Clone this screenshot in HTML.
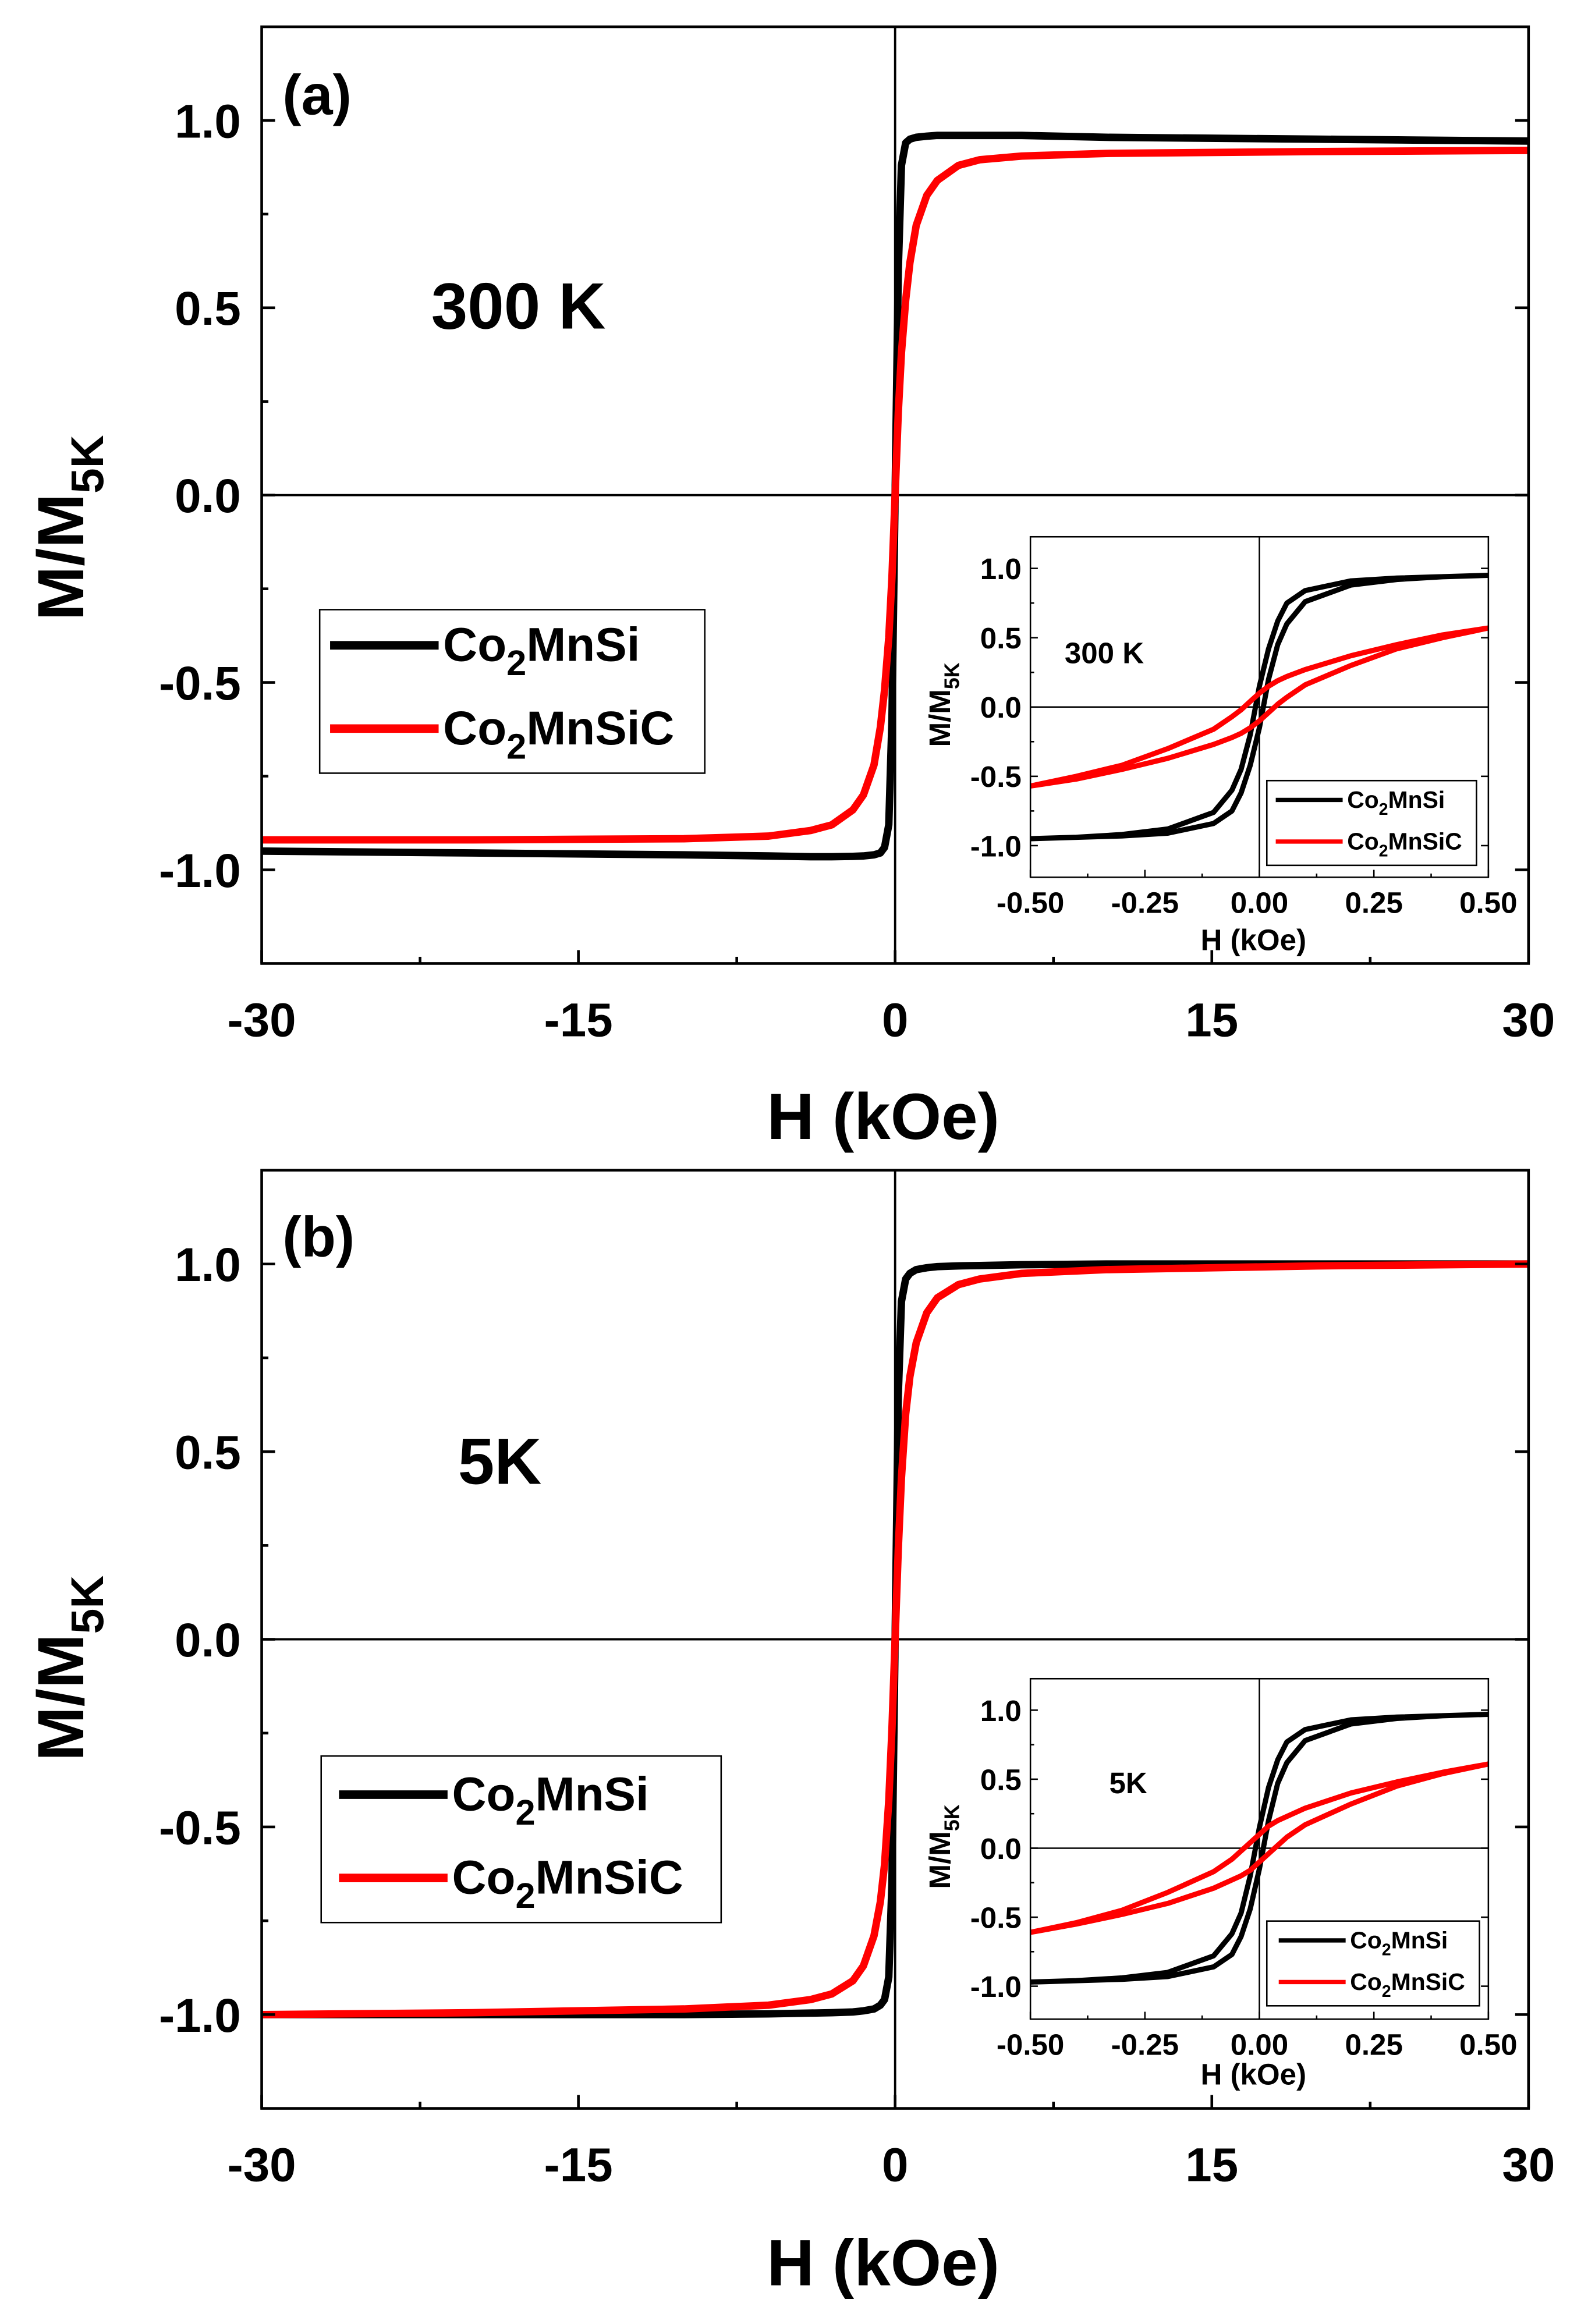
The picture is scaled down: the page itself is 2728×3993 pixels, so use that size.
<!DOCTYPE html>
<html><head><meta charset="utf-8"><style>
html,body{margin:0;padding:0;background:#fff}
svg{display:block}
text{font-family:"Liberation Sans",sans-serif;font-weight:bold;fill:#000}
</style></head><body>
<svg id="chart" width="2728" height="3993" viewBox="0 0 1068 1563" preserveAspectRatio="none" xmlns="http://www.w3.org/2000/svg"></svg>
<script>
const fieldMain=[-30,-20,-10,-6,-4,-3,-2,-1.5,-1,-0.7,-0.5,-0.3,-0.15,0,0.15,0.3,0.5,0.7,1,1.5,2,3,4,6,10,20,30];
const black300=[-0.95,-0.955,-0.96,-0.963,-0.965,-0.965,-0.964,-0.963,-0.96,-0.955,-0.94,-0.88,-0.6,0,0.6,0.88,0.94,0.95,0.955,0.958,0.96,0.96,0.96,0.96,0.955,0.95,0.945];
const red300=[-0.92,-0.92,-0.917,-0.91,-0.895,-0.88,-0.84,-0.8,-0.72,-0.62,-0.52,-0.38,-0.22,0,0.22,0.38,0.52,0.62,0.72,0.8,0.84,0.88,0.895,0.905,0.912,0.917,0.92];
const black5=[-1,-1,-1,-0.998,-0.996,-0.995,-0.993,-0.99,-0.985,-0.975,-0.96,-0.9,-0.65,0,0.65,0.9,0.96,0.975,0.985,0.99,0.993,0.995,0.996,0.998,1,1,1];
const red5=[-1,-0.995,-0.985,-0.975,-0.96,-0.945,-0.91,-0.87,-0.79,-0.7,-0.6,-0.43,-0.24,0,0.24,0.43,0.6,0.7,0.79,0.87,0.91,0.945,0.96,0.975,0.985,0.995,1];
const fieldInset=[-0.5,-0.4,-0.3,-0.2,-0.1,-0.06,-0.04,-0.02,0,0.02,0.04,0.06,0.1,0.2,0.3,0.4,0.5];
const blackIn300=[-0.95,-0.94,-0.93,-0.91,-0.84,-0.75,-0.62,-0.42,-0.15,0.2,0.45,0.6,0.76,0.88,0.92,0.94,0.95];
const redIn300=[-0.57,-0.52,-0.45,-0.37,-0.27,-0.22,-0.19,-0.15,-0.1,-0.04,0.02,0.07,0.16,0.3,0.42,0.5,0.57];
const blackIn5=[-0.97,-0.96,-0.95,-0.93,-0.86,-0.77,-0.64,-0.44,-0.15,0.2,0.47,0.62,0.78,0.9,0.94,0.96,0.97];
const redIn5=[-0.61,-0.55,-0.48,-0.4,-0.29,-0.23,-0.2,-0.16,-0.1,-0.04,0.02,0.08,0.17,0.32,0.45,0.54,0.61];
const mainXTicks=[-30,-15,0,15,30];
const mainYTicks=[-1,-0.5,0,0.5,1];
const inXTicks=[-0.5,-0.25,0,0.25,0.5];
const inYTicks=[-1,-0.5,0,0.5,1];
const NS="http://www.w3.org/2000/svg";
const svg=document.getElementById('chart');
function el(tag,attrs,parent,txt){const e=document.createElementNS(NS,tag);for(const k in attrs)e.setAttribute(k,attrs[k]);if(txt!==undefined)e.textContent=txt;(parent||svg).appendChild(e);return e;}
function fmt(v,d){return v.toFixed(d);}
function panel(o){
  const g=el('g',{});
  
  
  const sx=v=>o.x0+(v-o.xmin)/(o.xmax-o.xmin)*(o.x1-o.x0);
  const sy=v=>o.y1-(v-o.ymin)/(o.ymax-o.ymin)*(o.y1-o.y0);
  const zx=el('line',{x1:sx(0),x2:sx(0),y1:o.y0,y2:o.y1,stroke:'#000','stroke-width':o.thin},g);
  
  const zy=el('line',{x1:o.x0,x2:o.x1,y1:sy(0),y2:sy(0),stroke:'#000','stroke-width':o.thin},g);
  
  o.series.forEach(s=>{
    let pts=o.xs.map((x,i)=>sx(x)+','+sy(s.v[i]));
    let d='M'+pts.join('L');
    if(s.loop){const back=o.xs.map((x,i)=>sx(-x)+','+sy(-s.v[i]));d+='M'+back.join('L');}
    const p=el('path',{d:d,fill:'none',stroke:s.c,'stroke-width':o.lw,'stroke-linejoin':'round'},g);
    
  });
  const f=el('rect',{x:o.x0,y:o.y0,width:o.x1-o.x0,height:o.y1-o.y0,fill:'none',stroke:'#000','stroke-width':o.fw},g);
  
  o.xt.forEach((t,i)=>{
    el('line',{x1:sx(t),x2:sx(t),y1:o.y1,y2:o.y1-o.tl,stroke:'#000','stroke-width':o.fw},g);
    if(i<o.xt.length-1){const m=(t+o.xt[i+1])/2;el('line',{x1:sx(m),x2:sx(m),y1:o.y1,y2:o.y1-o.tl/2,stroke:'#000','stroke-width':o.fw},g);}
    const tx=el('text',{x:sx(t),y:o.y1+o.xlo,'font-size':o.fs,'text-anchor':'middle'},g,fmt(t,o.xd));
    
  });
  o.yt.forEach((t,i)=>{
    el('line',{x1:o.x0,x2:o.x0+o.tl,y1:sy(t),y2:sy(t),stroke:'#000','stroke-width':o.fw},g);
    el('line',{x1:o.x1,x2:o.x1-o.tl,y1:sy(t),y2:sy(t),stroke:'#000','stroke-width':o.fw},g);
    if(i<o.yt.length-1){const m=(t+o.yt[i+1])/2;el('line',{x1:o.x0,x2:o.x0+o.tl/2,y1:sy(m),y2:sy(m),stroke:'#000','stroke-width':o.fw},g);}
    const tx=el('text',{x:o.x0-o.ylo,y:sy(t)+o.fs*0.36,'font-size':o.fs,'text-anchor':'end'},g,fmt(t,1));
    
  });
  return g;
}
function legend(x,y,w,h,lx1,lx2,fs,rows,sub,name){
  const g=el('g',{});
  
  el('rect',{x:x,y:y,width:w,height:h,fill:'#fff',stroke:'#000','stroke-width':1},g);
  rows.forEach(r=>{
    const e=el('g',{},g);
    
    el('line',{x1:lx1,x2:lx2,y1:r.y,y2:r.y,stroke:r.c,'stroke-width':fs*0.18},e);
    const t=el('text',{x:lx2+3,y:r.y+fs*0.33,'font-size':fs},e);
    el('tspan',{},t,'Co');el('tspan',{'font-size':fs*sub,dy:fs*0.3},t,'2');el('tspan',{dy:-fs*0.3},t,r.t);
  });
}
function yTitle(x,y,fs,name){
  const t=el('text',{x:0,y:0,'font-size':fs,'text-anchor':'middle',transform:`translate(${x},${y}) rotate(-90)`});
  
  el('tspan',{},t,'M/M');el('tspan',{'font-size':fs*0.7,dy:fs*0.3},t,'5K');
}
function label(x,y,fs,s,name,anchor){const t=el('text',{x:x,y:y,'font-size':fs,'text-anchor':anchor||'start'},svg,s);}

const mainBase={xmin:-30,xmax:30,ymin:-1.25,ymax:1.25,x0:176,x1:1028,xs:fieldMain,xt:mainXTicks,yt:mainYTicks,thin:1.5,lw:5,fw:1.8,tl:9,fs:32,xlo:49,ylo:14,xd:0};
panel(Object.assign({},mainBase,{name:'panel-a',y0:18,y1:648,series:[{v:black300,c:'#000',n:'co2mnsi-300k-curve'},{v:red300,c:'#f00',n:'co2mnsic-300k-curve'}]}));
panel(Object.assign({},mainBase,{name:'panel-b',y0:787,y1:1418,series:[{v:black5,c:'#000',n:'co2mnsi-5k-curve'},{v:red5,c:'#f00',n:'co2mnsic-5k-curve'}]}));
label(190,77,38,'(a)','panel-a-label');label(190,845,38,'(b)','panel-b-label');
label(290,221,44,'300 K','temperature-label-a');label(308,998,44,'5K','temperature-label-b');
label(594,766,44,'H (kOe)','x-axis-title-a','middle');label(594,1537,44,'H (kOe)','x-axis-title-b','middle');
yTitle(56,355,44,'y-axis-title-a');yTitle(56,1122,44,'y-axis-title-b');
legend(215,410,259,110,222,295,32,[{y:434,c:'#000',t:'MnSi'},{y:490,c:'#f00',t:'MnSiC'}],0.75,'legend-a');
legend(216,1181,269,112,228,301,32,[{y:1207,c:'#000',t:'MnSi'},{y:1263,c:'#f00',t:'MnSiC'}],0.75,'legend-b');

const inBase={xmin:-0.5,xmax:0.5,x0:693,x1:1001,xs:fieldInset,xt:inXTicks,yt:inYTicks,thin:1,lw:3.5,fw:1,tl:5,fs:20,xlo:24,ylo:6,xd:2};
panel(Object.assign({},inBase,{name:'inset-a',y0:361,y1:590,ymin:-1.2282,ymax:1.2282,series:[{v:blackIn300,c:'#000',n:'inset-co2mnsi-300k',loop:true},{v:redIn300,c:'#f00',n:'inset-co2mnsic-300k',loop:true}]}));
panel(Object.assign({},inBase,{name:'inset-b',y0:1129,y1:1358,ymin:-1.2391,ymax:1.2282,series:[{v:blackIn5,c:'#000',n:'inset-co2mnsi-5k',loop:true},{v:redIn5,c:'#f00',n:'inset-co2mnsic-5k',loop:true}]}));
label(716,446,20,'300 K','inset-temperature-a');label(746,1206,20,'5K','inset-temperature-b');
label(843,639,20,'H (kOe)','inset-x-title-a','middle');label(843,1402,20,'H (kOe)','inset-x-title-b','middle');
yTitle(639,474,20,'inset-y-title-a');yTitle(639,1242,20,'inset-y-title-b');
legend(852,525,141,57,858,903,16,[{y:538,c:'#000',t:'MnSi'},{y:566,c:'#f00',t:'MnSiC'}],0.7,'inset-legend-a');
legend(852,1292,143,57,860,905,16,[{y:1305,c:'#000',t:'MnSi'},{y:1333,c:'#f00',t:'MnSiC'}],0.7,'inset-legend-b');
</script>
</body></html>
